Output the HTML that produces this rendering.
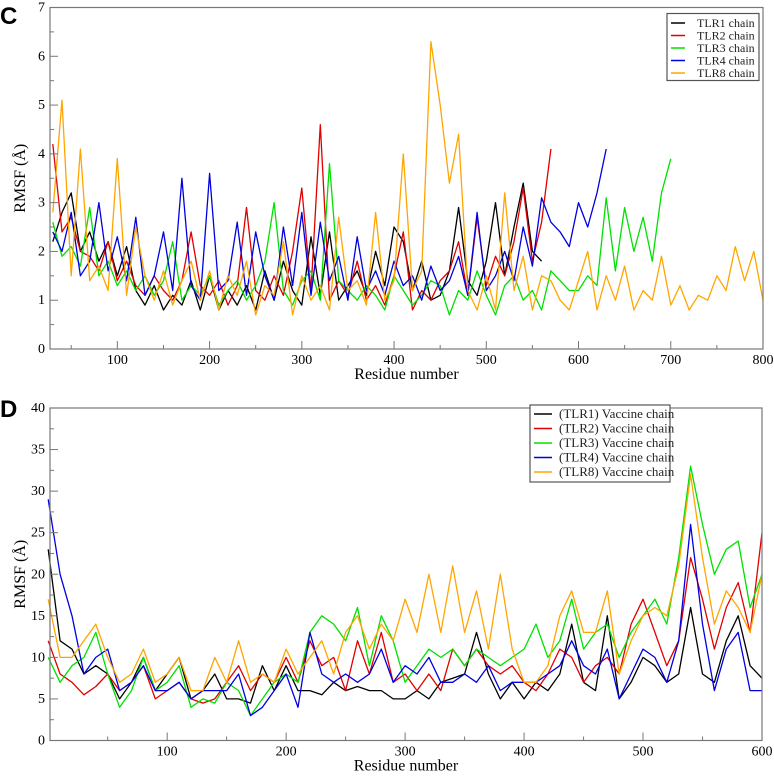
<!DOCTYPE html>
<html><head><meta charset="utf-8"><style>
html,body{margin:0;padding:0;background:#fff;}
svg{display:block;}
svg text{font-family:"Liberation Serif",serif;}
svg text.panel{font-family:"Liberation Sans",sans-serif;font-weight:bold;}
</style></head><body>
<svg id="fig" width="774" height="776" xmlns="http://www.w3.org/2000/svg">
<text class="panel" x="0" y="24" font-size="24">C</text>
<text class="panel" x="0" y="417" font-size="24">D</text>
<g id="chartC"></g>
<g id="chartD"></g>
</svg>
<script>
// ---- Panel C data (residue start 30, step 10) ----
const cStart = 30, cStep = 10;
const cNames = ["TLR1 chain","TLR2 chain","TLR3 chain","TLR4 chain","TLR8 chain"];
const cColors = ["#000000","#e00000","#00e000","#0000e0","#ffa500"];
const cTLR1 = [2.2,2.8,3.2,2.0,2.4,1.8,2.2, 1.5,2.1,1.2,0.9,1.3,0.8,1.1,0.9,1.4,0.8, 1.5,0.8,1.2,0.9,1.3,0.8,1.6,1.0,1.8,1.2, 0.9,2.3,1.1,2.4,1.0,1.3,1.6,1.1,2.0,1.3, 2.5,2.2,1.2,1.8,1.0,1.1,1.6,2.9,1.4,1.1, 1.8,3.0,1.5,2.5,3.4,2.0,1.8];
const cTLR2 = [4.2,2.4,2.7,2.0,1.9,1.6,2.2, 1.4,1.8,1.3,1.1,1.5,1.2,1.0,1.4,2.4,1.3, 1.1,1.4,0.9,1.3,2.9,1.2,1.0,1.5,1.1,2.0, 3.3,1.2,4.6,1.0,1.4,1.1,1.8,1.0,1.3,0.9, 1.5,2.4,0.8,1.2,1.0,1.4,1.6,2.2,1.1,2.7, 1.3,1.9,1.5,2.2,3.3,1.8,2.6,4.1];
const cTLR3 = [2.6,1.9,2.1,1.7,2.9,1.5,1.8, 1.3,1.6,1.2,1.5,1.1,1.4,2.2,1.0,1.3,1.1, 1.5,0.9,1.2,1.4,1.0,1.3,1.8,3.0,1.2,0.9, 1.4,1.6,1.0,3.8,1.4,1.2,1.0,1.3,1.1,0.8, 1.5,1.2,0.9,1.1,1.4,1.3,0.7,1.2,1.0,1.6, 1.1,0.7,1.3,1.5,1.0,1.2,0.8,1.6,1.4,1.2, 1.2,1.5,1.3,3.1,1.6,2.9,2.0,2.7,1.8,3.2, 3.9];
const cTLR4 = [2.4,2.0,2.8,1.5,1.8,3.0,1.6, 2.3,1.4,2.7,1.1,1.5,2.4,1.2,3.5,1.3,1.0, 3.6,1.2,1.4,2.6,1.1,2.4,1.5,1.0,2.5,1.3, 2.8,1.1,2.6,1.4,1.9,1.0,2.3,1.2,1.6,1.1, 1.8,1.3,1.5,1.0,1.7,1.2,1.4,1.9,1.1,2.8, 1.2,1.5,2.0,1.4,2.5,1.7,3.1,2.6,2.4,2.1, 3.0,2.5,3.2,4.1];
const cTLR8 = [2.8,5.1,1.5,4.1,1.4,1.7,1.2, 3.9,1.1,2.5,1.5,1.0,1.6,0.9,1.4,1.8,1.0, 1.6,0.8,1.5,1.1,1.8,0.7,1.3,1.1,2.2,0.7, 1.5,1.0,1.3,0.8,2.7,1.2,1.4,0.9,2.8,1.0, 1.4,4.0,1.2,1.6,6.3,5.0,3.4,4.4,1.2,0.8, 1.5,0.8,3.2,1.2,1.9,0.8,1.5,1.4,1.0,0.8, 1.4,2.0,0.8,1.5,1.0,1.7,0.8,1.2,1.0,1.9, 0.9,1.3,0.8,1.1,1.0,1.5,1.2,2.1,1.4,2.0,1.0];
const cXTicks = [100,200,300,400,500,600,700,800];
const cYTicks = [0,1,2,3,4,5,6,7];

// ---- Panel D data (residue start 0, step 10) ----
const dStart = 0, dStep = 10;
const dNames = ["(TLR1) Vaccine chain","(TLR2) Vaccine chain","(TLR3) Vaccine chain","(TLR4) Vaccine chain","(TLR8) Vaccine chain"];
const dColors = ["#000000","#e00000","#00e000","#0000e0","#ffa500"];
const dTLR1 = [23,12,11,8,9,8,5,7,10,6, 8,10,5,6,8,5,5,4.5,9,6, 9,6,6,5.5,7,6,6.5,6,6,5, 5,6,5,7,7.5,8,13,8,5,7, 5,7,6,8,14,7,6,15,5,7, 10,9,7,8,16,8,7,12,15,9, 7.5];
const dTLR2 = [12,8,7,5.5,6.5,8,6,7,9,5, 6,7,5,4.5,5,7,9,6,8,7, 10,7,12,9,10,6,12,8,13,7, 8,6,8,6,11,9,11,9,8,9, 7,6,8,11,10,7,9,10,8,14, 17,13,9,12,22,17,11,16,19,13, 25];
const dTLR3 = [10,7,9,10,13,8,4,6,10,6, 7,9,4,5,4.5,7,6,3,5,7, 8,7,13,15,14,12,16,9,15,12, 7,9,11,10,11,9,11,10,9,10, 11,14,10,12,17,11,13,14,10,13, 15,17,14,22,33,26,20,23,24,16, 20];
const dTLR4 = [29,20,15,8,10,11,6,7,9,6, 6,7,5,6,6,6,8,3,4,6, 8,4,13,8,7,8,7,8,11,7, 9,8,10,7,7,8,7,9,6,7, 7,7,8,9,12,9,8,11,5,8, 11,10,7,12,26,14,6,11,13,6, 6];
const dTLR8 = [17,10,10,12,14,10,7,8,11,7, 8,10,6,6,10,7,12,7,8,7, 11,8,10,12,8,13,15,11,14,12, 17,13,20,13,21,13,18,11,20,11, 7,7,9,15,18,13,13,18,8,12, 15,16,15,21,32,22,14,18,16,13, 20];
const dXTicks = [100,200,300,400,500,600];
const dYTicks = [0,5,10,15,20,25,30,35,40];

const NS = "http://www.w3.org/2000/svg";
function mk(parent, tag, attrs){const e=document.createElementNS(NS,tag);for(const k in attrs)e.setAttribute(k,attrs[k]);parent.appendChild(e);return e;}

function drawChart(g, cfg){
  const sx = v => cfg.L + (v - cfg.xMin) / (cfg.xMax - cfg.xMin) * (cfg.R - cfg.L);
  const sy = v => cfg.B - (v - cfg.yMin) / (cfg.yMax - cfg.yMin) * (cfg.B - cfg.T);
  cfg.series.forEach((vals, i) => {
    const pts = vals.map((v, j) => sx(Math.min(cfg.start + j*cfg.step, cfg.xMax)).toFixed(1) + "," + sy(v).toFixed(1)).join(" ");
    const pl = mk(g, "polyline", {points: pts, fill: "none", stroke: cfg.colors[i], "stroke-width": 1.3, "stroke-linejoin": "round"});
    
    
  });
  const fr = mk(g, "rect", {x: cfg.L, y: cfg.T, width: cfg.R - cfg.L, height: cfg.B - cfg.T, fill: "none", stroke: "#777", "stroke-width": 1.2});
  
  
  cfg.xTicks.forEach(t => {
    const x = sx(t);
    mk(g, "line", {x1: x, x2: x, y1: cfg.B, y2: cfg.B - 8, stroke: "#777", "stroke-width": 1});
    const mx = sx(t - cfg.xMinor);
    if (t - cfg.xMinor > cfg.xMin) mk(g, "line", {x1: mx, x2: mx, y1: cfg.B, y2: cfg.B - 4, stroke: "#777", "stroke-width": 1});
    const tx = mk(g, "text", {x: x, y: cfg.B + 15, "text-anchor": "middle", "font-size": 14});
    tx.textContent = t;
    
    
  });
  cfg.yTicks.forEach((t, k) => {
    const y = sy(t);
    mk(g, "line", {x1: cfg.L, x2: cfg.L + 8, y1: y, y2: y, stroke: "#777", "stroke-width": 1});
    if (k > 0) { const my = sy(t - cfg.yMinor); mk(g, "line", {x1: cfg.L, x2: cfg.L + 4, y1: my, y2: my, stroke: "#777", "stroke-width": 1}); }
    const ty = mk(g, "text", {x: cfg.L - 5, y: y + 4, "text-anchor": "end", "font-size": 14});
    ty.textContent = t;
    
    
  });
  const xt = mk(g, "text", {x: (cfg.L + cfg.R) / 2, y: cfg.B + 30, "text-anchor": "middle", "font-size": 16});
  xt.textContent = "Residue number";
  
  
  const yy = (cfg.T + cfg.B) / 2;
  const yt = mk(g, "text", {x: 25, y: yy, "text-anchor": "middle", "font-size": 16, transform: "rotate(-90 25 " + yy + ")"});
  yt.textContent = "RMSF (Å)";
  
  
  const lg = mk(g, "g", {});
  
  
  mk(lg, "rect", {x: cfg.lg.x, y: cfg.lg.y, width: cfg.lg.w, height: cfg.lg.h, fill: "#fff", stroke: "#555", "stroke-width": 1.2});
  cfg.names.forEach((n, i) => {
    const y = cfg.lg.y0 + i * cfg.lg.dy;
    const ent = mk(lg, "g", {});
    
    
    mk(ent, "line", {x1: cfg.lg.lx1, x2: cfg.lg.lx2, y1: y, y2: y, stroke: cfg.colors[i], "stroke-width": 1.5});
    const t = mk(ent, "text", {x: cfg.lg.tx, y: y + 4, "font-size": cfg.lg.fs, fill: "#222"});
    t.textContent = n;
  });
}

drawChart(document.getElementById("chartC"), {
  L: 50, R: 763, T: 7.5, B: 349, xMin: 27, xMax: 800, yMin: 0, yMax: 7,
  start: cStart, step: cStep, series: [cTLR1, cTLR2, cTLR3, cTLR4, cTLR8],
  colors: cColors, names: cNames, xTicks: cXTicks, yTicks: cYTicks, xMinor: 50, yMinor: 0.5,
  lg: {x: 667, y: 13.5, w: 92, h: 67, y0: 23, dy: 12.5, lx1: 671, lx2: 685, tx: 697, fs: 12}
});
drawChart(document.getElementById("chartD"), {
  L: 50, R: 762, T: 408, B: 740.5, xMin: 1.5, xMax: 600, yMin: 0, yMax: 40,
  start: dStart, step: dStep, series: [dTLR1, dTLR2, dTLR3, dTLR4, dTLR8],
  colors: dColors, names: dNames, xTicks: dXTicks, yTicks: dYTicks, xMinor: 50, yMinor: 2.5,
  lg: {x: 530, y: 405, w: 140, h: 77, y0: 414, dy: 14.5, lx1: 534, lx2: 552, tx: 559, fs: 13}
});
</script>
</body></html>
